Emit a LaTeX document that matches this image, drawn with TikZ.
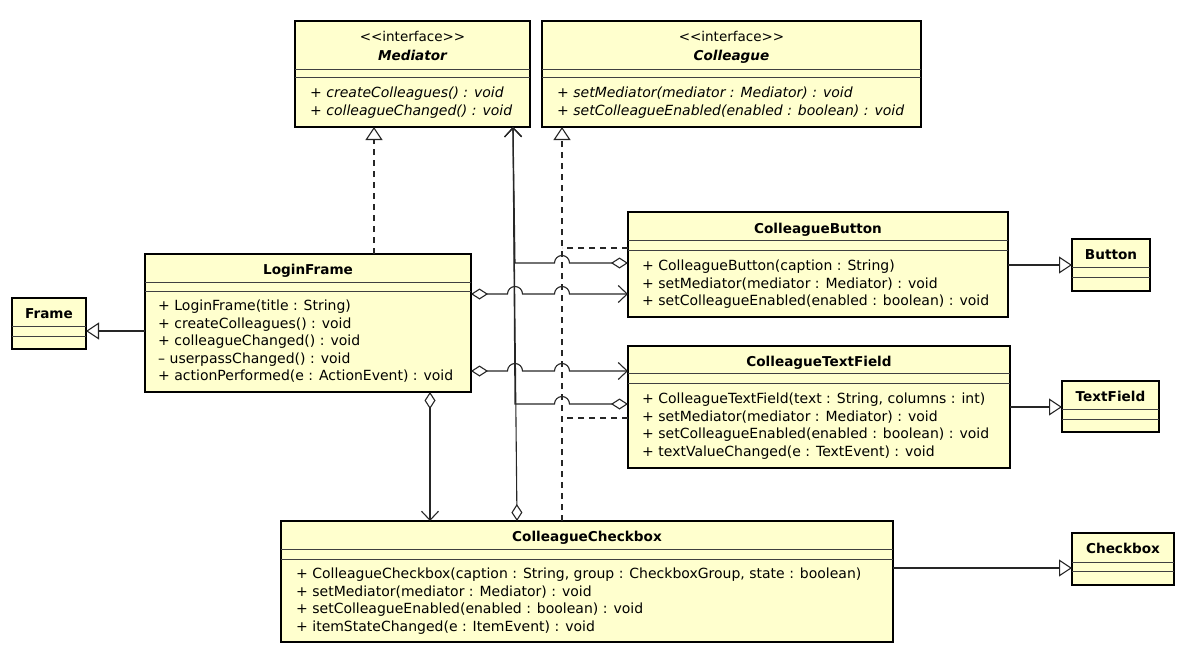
\documentclass[tikz,border=0pt]{standalone}
\usepackage{fontspec}
\setmainfont{DejaVu Sans}
\usetikzlibrary{calc,arrows.meta}
\definecolor{classfill}{RGB}{255,255,206}
\tikzset{
	classbox/.style={draw=black, line width=2.3pt, fill=classfill, anchor=north west, inner sep=0pt, outer sep=0pt},
	compline/.style={draw=black!75, line width=1pt},
	title/.style={font=\fontsize{13.6}{15}\selectfont\bfseries, anchor=base, inner sep=0pt},
	stereo/.style={font=\fontsize{13.5}{15}\selectfont, anchor=base, inner sep=0pt},
	ops/.style={font=\fontsize{14}{17.5}\selectfont, align=left, anchor=north west, inner sep=0pt},
	gen/.style={draw=black!85, line width=1.1pt, -{Triangle[length=13pt, width=17pt, fill=white]}},
	real/.style={gen, dash pattern=on 6pt off 5pt},
	branch/.style={draw=black!85, line width=1.1pt, dash pattern=on 6pt off 5pt},
	has/.style={draw=black!85, line width=1.1pt, {Diamond[length=17pt, width=11pt, fill=white]}-{Straight Barb[length=9pt, width=17pt]}}
}
\def\classbox(#1)(#2,#3)(#4,#5)(#6:#7){
	\node[classbox, minimum width=#4pt, minimum height=#5pt] (#1) at (#2,#3) {};
	\draw[compline] ($(#1.north west)+(0,#6)$) -- ($(#1.north east)+(0,#6)$);
	\draw[compline] ($(#1.north west)+(0,#7)$) -- ($(#1.north east)+(0,#7)$);
}
\begin{document}
\begin{tikzpicture}[x=1pt, y=-1pt]
		%%%%% START %%%%%
		\useasboundingbox (0,0) rectangle (1200,664);
		
		\classbox(mediator)(295,21)(235,106)(48:56)
		\node[stereo] (medstereo) at (412.5,41) {<{}<interface>{}>};
		\node[title, font=\fontsize{13.6}{15}\selectfont\bfseries\itshape] (medname) at (412.5,60) {Mediator};
		\node[ops, font=\fontsize{14}{17.5}\selectfont\itshape] (medops) at (310,87) {+ createColleagues() : void\\+ colleagueChanged() : void};
		
		\classbox(colleague)(542,21)(379,106)(48:56)
		\node[stereo] (colstereo) at (731.5,41) {<{}<interface>{}>};
		\node[title, font=\fontsize{13.6}{15}\selectfont\bfseries\itshape] (colname) at (731.5,60) {Colleague};
		\node[ops, font=\fontsize{14}{17.5}\selectfont\itshape] (colops) at (557,87) {+ setMediator(mediator : Mediator) : void\\+ setColleagueEnabled(enabled : boolean) : void};
		
		\classbox(login)(145,254)(326,138)(28:37)
		\node[title] (loginname) at (308,274) {LoginFrame};
		\node[ops] (loginops) at (158,300) {+ LoginFrame(title : String)\\+ createColleagues() : void\\+ colleagueChanged() : void\\– userpassChanged() : void\\+ actionPerformed(e : ActionEvent) : void};
		
		\classbox(frame)(12,298)(74,51)(28:38)
		\node[title] (framename) at (49,318) {Frame};
		
		\classbox(cbutton)(628,212)(380,105)(28:38)
		\node[title] (cbuttonname) at (818,233) {ColleagueButton};
		\node[ops] (cbuttonops) at (642,260) {+ ColleagueButton(caption : String)\\+ setMediator(mediator : Mediator) : void\\+ setColleagueEnabled(enabled : boolean) : void};
		
		\classbox(button)(1072,239)(78,52)(28:38)
		\node[title] (buttonname) at (1111,259) {Button};
		
		\classbox(ctextfield)(628,346)(382,122)(27:37)
		\node[title] (ctextfieldname) at (819,366) {ColleagueTextField};
		\node[ops] (ctextfieldops) at (642,393) {+ ColleagueTextField(text : String, columns : int)\\+ setMediator(mediator : Mediator) : void\\+ setColleagueEnabled(enabled : boolean) : void\\+ textValueChanged(e : TextEvent) : void};
		
		\classbox(textfield)(1062,381)(97,51)(28:38)
		\node[title] (textfieldname) at (1110.5,401) {TextField};
		
		\classbox(ccheckbox)(281,521)(612,121)(28:38)
		\node[title] (ccheckboxname) at (587,541) {ColleagueCheckbox};
		\node[ops] (ccheckboxops) at (296,568) {+ ColleagueCheckbox(caption : String, group : CheckboxGroup, state : boolean)\\+ setMediator(mediator : Mediator) : void\\+ setColleagueEnabled(enabled : boolean) : void\\+ itemStateChanged(e : ItemEvent) : void};
		
		\classbox(checkbox)(1072,533)(102,52)(29:38)
		\node[title] (checkboxname) at (1123,553) {Checkbox};
		
		% generalization
		\draw[gen] ([yshift=-77pt]login.north west) -- ([yshift=-33pt]frame.north east);
		\draw[gen] ([yshift=-53pt]cbutton.north east) -- ([yshift=-26pt]button.north west);
		\draw[gen] ([yshift=-61pt]ctextfield.north east) -- ([yshift=-26pt]textfield.north west);
		\draw[gen] ([yshift=-47pt]ccheckbox.north east) -- ([yshift=-35pt]checkbox.north west);
		
		% realization
		\coordinate (colltrunk) at ([xshift=20pt]colleague.south west);
		\coordinate (bdash) at ([yshift=-36pt]cbutton.north west);
		\coordinate (tdash) at ([yshift=-72pt]ctextfield.north west);
		\draw[real] ([xshift=229pt]login.north west) -- ([xshift=79pt]mediator.south west);
		\draw[real] ([xshift=281pt]ccheckbox.north west) -- (colltrunk);
		\draw[branch] (bdash) -- (bdash -| colltrunk);
		\draw[branch] (tdash) -- (tdash -| colltrunk);
		
		% mediator references
		\coordinate (medtip) at ([xshift=218pt]mediator.south west);
		\coordinate (bmed) at ([yshift=-51pt]cbutton.north west);
		\coordinate (tmed) at ([yshift=-58pt]ctextfield.north west);
		\draw[has] (bmed) -- ++(-58.5,0) arc (0:-180:7.5) -- ++(-39.5,0) -- (medtip);
		\draw[has] (tmed) -- ++(-58.5,0) arc (0:-180:7.5) -- ++(-39.5,0) -- (medtip);
		\draw[has] ([xshift=236pt]ccheckbox.north west) -- (medtip);
		
		% login frame members
		\coordinate (lbtn) at ([yshift=-40pt]login.north east);
		\coordinate (ltxt) at ([yshift=-117pt]login.north east);
		\draw[has] (lbtn) -- ++(36.5,0) arc (180:360:7.5) -- ++(32,0) arc (180:360:7.5) -- (lbtn -| cbutton.west);
		\draw[has] (ltxt) -- ++(36.5,0) arc (180:360:7.5) -- ++(32,0) arc (180:360:7.5) -- (ltxt -| ctextfield.west);
		\draw[has] ([xshift=285pt]login.south west) -- ([xshift=149pt]ccheckbox.north west);
		
		%%%%% END %%%%%
	\end{tikzpicture}
\end{document}
